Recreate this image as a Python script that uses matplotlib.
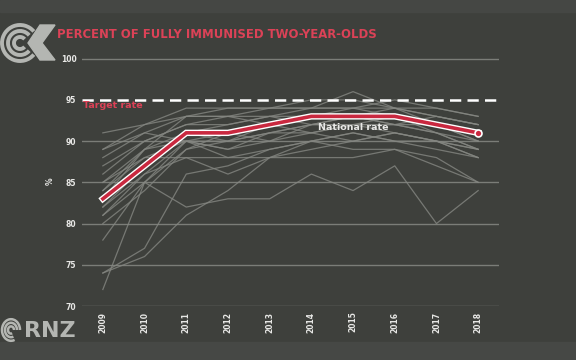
import numpy as np
import matplotlib.pyplot as plt
import matplotlib.patheffects as pe
from matplotlib.patches import Arc, Polygon, Rectangle

# Immunisation rates (% fully immunised at two years)
years = [2009, 2010, 2011, 2012, 2013, 2014, 2015, 2016, 2017, 2018]
national_rate = [83, 87, 91, 91, 92, 93, 93, 93, 92, 91]
target_rate = 95

dhb_rates = [
    [91, 92, 94, 94, 94, 95, 95, 94, 94, 93],
    [89, 92, 93, 94, 94, 94, 96, 94, 93, 92],
    [88, 91, 93, 93, 94, 94, 94, 95, 94, 93],
    [87, 90, 92, 93, 93, 94, 94, 94, 93, 92],
    [85, 89, 91, 92, 93, 93, 93, 94, 92, 90],
    [84, 88, 90, 89, 91, 92, 92, 93, 92, 91],
    [82, 86, 90, 90, 91, 91, 92, 92, 91, 89],
    [81, 86, 88, 88, 89, 90, 91, 90, 90, 88],
    [78, 85, 90, 89, 90, 92, 93, 93, 91, 90],
    [72, 85, 89, 90, 91, 92, 92, 91, 90, 89],
    [74, 77, 86, 87, 89, 90, 91, 90, 89, 88],
    [74, 76, 81, 84, 88, 89, 90, 91, 90, 89],
    [81, 85, 82, 83, 83, 86, 84, 87, 80, 84],
    [85, 88, 88, 86, 88, 88, 88, 89, 88, 85],
    [83, 89, 93, 93, 92, 93, 94, 93, 92, 91],
    [86, 90, 92, 92, 93, 92, 93, 92, 92, 90],
    [89, 91, 90, 91, 90, 91, 90, 91, 90, 88],
    [82, 87, 91, 90, 92, 93, 93, 92, 93, 92],
    [80, 84, 89, 91, 92, 91, 92, 92, 91, 89],
    [84, 89, 90, 88, 88, 90, 89, 89, 87, 85],
]
y_ticks = [70, 75, 80, 85, 90, 95, 100]

bg = '#3e403c'
red = '#dc4257'
grid_col = '#7b7d78'
text_col = '#e8e8e6'

fig = plt.figure(figsize=(5.76, 3.6), dpi=100, facecolor=bg)
ax = fig.add_axes([82 / 576, 54 / 360, 417 / 576, 249 / 360])
ax.set_facecolor('none')

for y in y_ticks:
    if y == target_rate:
        continue
    ax.axhline(y, color=grid_col, lw=1.0, zorder=1)

for series in dhb_rates:
    ax.plot(years, series, color='#858782', lw=0.9, alpha=0.8, zorder=2)

ax.axhline(target_rate, color='white', lw=1.8, ls=(0, (4.5, 2.5)), zorder=3)
ax.text(2008.52, 94.3, 'Target rate', color=red, fontsize=6.8,
        fontweight='bold', va='center', ha='left', zorder=5)

ax.plot(years, national_rate, color='#c9283f', lw=2.6, zorder=4,
        solid_joinstyle='miter',
        path_effects=[pe.Stroke(linewidth=4.6, foreground='white'), pe.Normal()])
ax.plot(years[-1], national_rate[-1], 'o', color='#c9283f', ms=5,
        mec='white', mew=1.2, zorder=5)
ax.text(2014.15, 91.6, 'National rate', color=text_col, fontsize=6.8,
        fontweight='bold', va='center', ha='left', zorder=5)

ax.set_xlim(2008.5, 2018.5)
ax.set_ylim(70, 100.2)
ax.set_xticks(years)
ax.set_xticklabels([str(y) for y in years], rotation=90, fontsize=5.5,
                   fontweight='bold', color=text_col)
ax.set_yticks(y_ticks)
ax.set_yticklabels([str(y) for y in y_ticks], fontsize=5.5,
                   fontweight='bold', color=text_col)
ax.tick_params(length=0, pad=4)
for s in ax.spines.values():
    s.set_visible(False)
ax.set_ylabel('%', color=text_col, fontsize=5.5, fontweight='bold', labelpad=4)

# overlay for title, bands and logos (pixel coordinates)
ov = fig.add_axes([0, 0, 1, 1], facecolor='none')
ov.set_xlim(0, 576)
ov.set_ylim(360, 0)
ov.axis('off')
ov.add_patch(Rectangle((0, 0), 576, 12, color='#454744', zorder=0))
ov.add_patch(Rectangle((0, 342), 576, 18, color='#464845', zorder=0))

ov.text(57, 34, 'PERCENT OF FULLY IMMUNISED TWO-YEAR-OLDS', color=red,
        fontsize=8.4, fontweight='bold', va='center', ha='left')

logo = '#b4b6b2'
for r in [6, 12, 18]:
    ov.add_patch(Arc((20, 43), 2 * r, 2 * r, theta1=40, theta2=320,
                     color=logo, lw=2.8))
ov.add_patch(Polygon([[40, 25], [55, 25], [42, 43], [55, 60], [40, 60], [28, 43]],
                     closed=True, color=logo))

for r in [3, 6, 9]:
    ov.add_patch(Arc((11, 330), 2 * r, 2 * r * 1.2, theta1=70, theta2=360,
                     color=logo, lw=1.8))
ov.text(24, 331, 'RNZ', color=logo, fontsize=16, fontweight='bold',
        va='center', ha='left')

fig.savefig('out.png', dpi=100, facecolor=bg)
